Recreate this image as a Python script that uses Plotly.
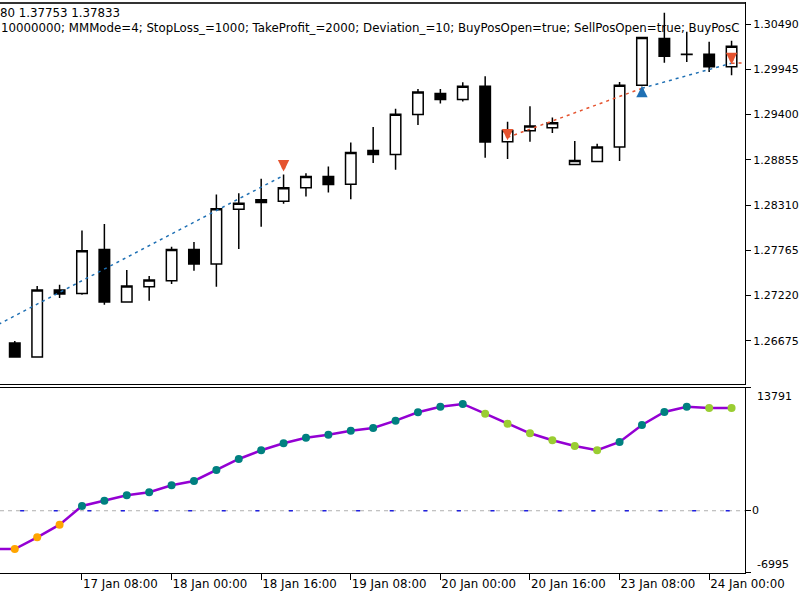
import plotly.graph_objects as go

# ---------------- data (H4 bars) ----------------
bar_idx = list(range(33))
open_ = [1.26651, 1.26482, 1.27287, 1.27246, 1.27777, 1.27142, 1.27327, 1.27399, 1.27777, 1.27601,
         1.28260, 1.28374, 1.28357, 1.28519, 1.28655, 1.28562, 1.28969, 1.28921, 1.29400, 1.29653,
         1.29581, 1.29742, 1.29074, 1.29207, 1.29243, 1.28800, 1.28836, 1.29009, 1.29754, 1.30317,
         1.30124, 1.30128, 1.29975]
high = [1.26675, 1.27335, 1.27351, 1.28003, 1.28084, 1.27529, 1.27456, 1.27810, 1.27867, 1.28438,
        1.28453, 1.28627, 1.28679, 1.28695, 1.28776, 1.29065, 1.29250, 1.29472, 1.29709, 1.29709,
        1.29790, 1.29862, 1.29315, 1.29500, 1.29364, 1.29081, 1.29050, 1.29793, 1.30337, 1.30626,
        1.30397, 1.30276, 1.30288]
low = [1.26482, 1.26482, 1.27190, 1.27230, 1.27110, 1.27134, 1.27158, 1.27360, 1.27520, 1.27327,
       1.27782, 1.28051, 1.28325, 1.28413, 1.28462, 1.28381, 1.28816, 1.28736, 1.29274, 1.29533,
       1.29557, 1.28881, 1.28864, 1.29074, 1.29178, 1.28800, 1.28836, 1.28840, 1.29742, 1.30023,
       1.30035, 1.29914, 1.29874]
close = [1.26482, 1.27287, 1.27239, 1.27762, 1.27142, 1.27335, 1.27408, 1.27777, 1.27601, 1.28265,
         1.28333, 1.28341, 1.28519, 1.28655, 1.28558, 1.28945, 1.28921, 1.29403, 1.29673, 1.29581,
         1.29742, 1.29069, 1.29210, 1.29262, 1.29303, 1.28848, 1.29009, 1.29754, 1.30329, 1.30104,
         1.30128, 1.29975, 1.30224]

# trade markers / connecting lines
sell_x = [12, 22, 32]
sell_y = [1.28764, 1.29138, 1.30055]
buy_x = [28]
buy_y = [1.29697]
buy_line1_x = [-1, 12]
buy_line1_y = [1.26836, 1.28667]
sell_line1_x = [22, 28]
sell_line1_y = [1.29126, 1.29717]
buy_line2_x = [28, 32]
buy_line2_y = [1.29717, 1.30019]
sell_line2_x = [32, 34]
sell_line2_y = [1.30019, 1.30030]

# oscillator (includes the bar before the first visible one)
osc_x = list(range(-1, 33))
osc_vals = [-4299, -4299, -2984, -1569, 533, 1128, 1735, 2072, 2858, 3342, 4577, 5813, 6791, 7578,
            8207, 8544, 8993, 9297, 10117, 11061, 11690, 11993, 10903, 9780, 8701, 7915, 7274,
            6791, 7724, 9634, 11094, 11690, 11544, 11544]
osc_state = (["neg"] * 4 + ["up"] * 18 + ["down"] * 6 + ["up"] * 4 + ["down"] * 2)
state_colors = {"neg": "#FFA500", "up": "#008080", "down": "#9ACD32"}

price_ticks = [1.30490, 1.29945, 1.29400, 1.28855, 1.28310, 1.27765, 1.27220, 1.26675]
time_tick_idx = [3, 7, 11, 15, 19, 23, 27, 31]
time_tick_text = ["17 Jan 08:00", "18 Jan 00:00", "18 Jan 16:00", "19 Jan 08:00",
                  "20 Jan 00:00", "20 Jan 16:00", "23 Jan 08:00", "24 Jan 00:00"]
first_tick_idx = -1
first_tick_text = "16 Jan 16:00"
osc_ticks = [13791, 0, -6995]
price_range = [1.26156, 1.30744]
osc_range = [-6995, 13791]
x_range = [-0.66, 32.6]

header1 = "80 1.37753 1.37833"
header2 = ("10000000; MMMode=4; StopLoss_=1000; TakeProfit_=2000; Deviation_=10; "
           "BuyPosOpen=true; SellPosOpen=true; BuyPosC")

FONT = "DejaVu Sans"
FS = 11
FS_HDR = 11.8
RED = "#E5532F"
BLUE = "#1F70B4"

fig = go.Figure()

fig.add_trace(go.Candlestick(
    x=bar_idx, open=open_, high=high, low=low, close=close,
    increasing=dict(fillcolor="white", line=dict(color="black", width=1.5)),
    decreasing=dict(fillcolor="black", line=dict(color="black", width=1.5)),
    whiskerwidth=0, xaxis="x", yaxis="y", hoverinfo="skip"))

for lx, ly, col in [(buy_line1_x, buy_line1_y, BLUE), (sell_line1_x, sell_line1_y, RED),
                    (buy_line2_x, buy_line2_y, BLUE), (sell_line2_x, sell_line2_y, RED)]:
    fig.add_trace(go.Scatter(x=lx, y=ly, mode="lines", xaxis="x", yaxis="y",
                             line=dict(color=col, width=1.5, dash="3px,4px")))

fig.add_trace(go.Scatter(
    x=osc_x, y=osc_vals, mode="lines+markers", xaxis="x2", yaxis="y2",
    line=dict(color="#9400D3", width=2.5),
    marker=dict(size=8, color=[state_colors[s] for s in osc_state])))

shapes = [
    dict(type="line", xref="x2 domain", yref="y2", x0=0, x1=1, y0=0, y1=0,
         line=dict(color="#B0B0B0", width=1, dash="4px,4px"), layer="below"),
    dict(type="line", xref="x2 domain", yref="y2", x0=0.027, x1=1, y0=0, y1=0,
         line=dict(color="#2020E0", width=1.5, dash="4px,29.6px"), layer="below"),
    dict(type="line", xref="paper", yref="paper", x0=0, x1=1, y0=1, y1=1,
         line=dict(color="#333333", width=2)),
]

annotations = [
    dict(text=header1, x=0, y=1, xref="paper", yref="paper", xanchor="left", yanchor="top",
         xshift=-2, yshift=-1, showarrow=False, font=dict(family=FONT, size=FS_HDR, color="black")),
    dict(text=header2, x=0, y=1, xref="paper", yref="paper", xanchor="left", yanchor="top",
         xshift=-1, yshift=-16, showarrow=False, font=dict(family=FONT, size=FS_HDR, color="black")),
    dict(text=first_tick_text, x=first_tick_idx, y=0, xref="x2", yref="paper",
         xanchor="left", yanchor="top", yshift=-7, xshift=-1, showarrow=False,
         font=dict(family=FONT, size=FS_HDR, color="black")),
]
for v, ya, xs in zip(osc_ticks, ["top", "middle", "bottom"], [10, 5, 10]):
    annotations.append(dict(text=str(v), x=1, y=v, xref="x2 domain", yref="y2",
                            xanchor="left", yanchor=ya, xshift=xs, showarrow=False,
                            font=dict(family=FONT, size=FS, color="black")))

# deal arrows (drawn as annotation arrows pointing at the deal price)
for ax_, ay_ in zip(sell_x, sell_y):
    annotations.append(dict(x=ax_, y=ay_, xref="x", yref="y", text="", showarrow=True,
                            ax=0, ay=-10, yshift=-4, arrowhead=2, arrowsize=0.65, arrowwidth=3.5,
                            arrowcolor=RED))
for ax_, ay_ in zip(buy_x, buy_y):
    annotations.append(dict(x=ax_, y=ay_, xref="x", yref="y", text="", showarrow=True,
                            ax=0, ay=10, yshift=4, arrowhead=2, arrowsize=0.65, arrowwidth=3.5,
                            arrowcolor=BLUE))

fig.update_layout(
    width=800, height=600,
    margin=dict(l=0, r=55, t=3, b=27),
    paper_bgcolor="white", plot_bgcolor="white",
    showlegend=False, boxgap=0.33,
    font=dict(family=FONT, size=FS, color="black"),
    xaxis=dict(domain=[0, 1], range=x_range, anchor="y", showline=True, linecolor="black",
               linewidth=1, mirror=True, showgrid=False, zeroline=False,
               showticklabels=False, ticks="", rangeslider=dict(visible=False)),
    yaxis=dict(domain=[0.3316, 1], range=price_range, anchor="x", side="right",
               showline=True, linecolor="black", linewidth=1, ticks="outside", ticklen=5,
               tickcolor="black", tickvals=price_ticks,
               ticktext=[f"{v:.5f}" for v in price_ticks],
               showgrid=False, zeroline=False),
    xaxis2=dict(domain=[0, 1], range=x_range, anchor="y2", showline=True, linecolor="black",
                linewidth=1, mirror=True, showgrid=False, zeroline=False, ticks="outside",
                ticklen=6, tickcolor="black", tickvals=time_tick_idx, ticktext=time_tick_text,
                ticklabelposition="outside right", tickfont=dict(size=FS_HDR)),
    yaxis2=dict(domain=[0, 0.3246], range=osc_range, anchor="x2", side="right",
                showline=True, linecolor="black", linewidth=1, ticks="outside", ticklen=5,
                tickcolor="black", tickvals=osc_ticks, showticklabels=False,
                showgrid=False, zeroline=False),
    shapes=shapes, annotations=annotations,
)

fig.write_html("out.html")
